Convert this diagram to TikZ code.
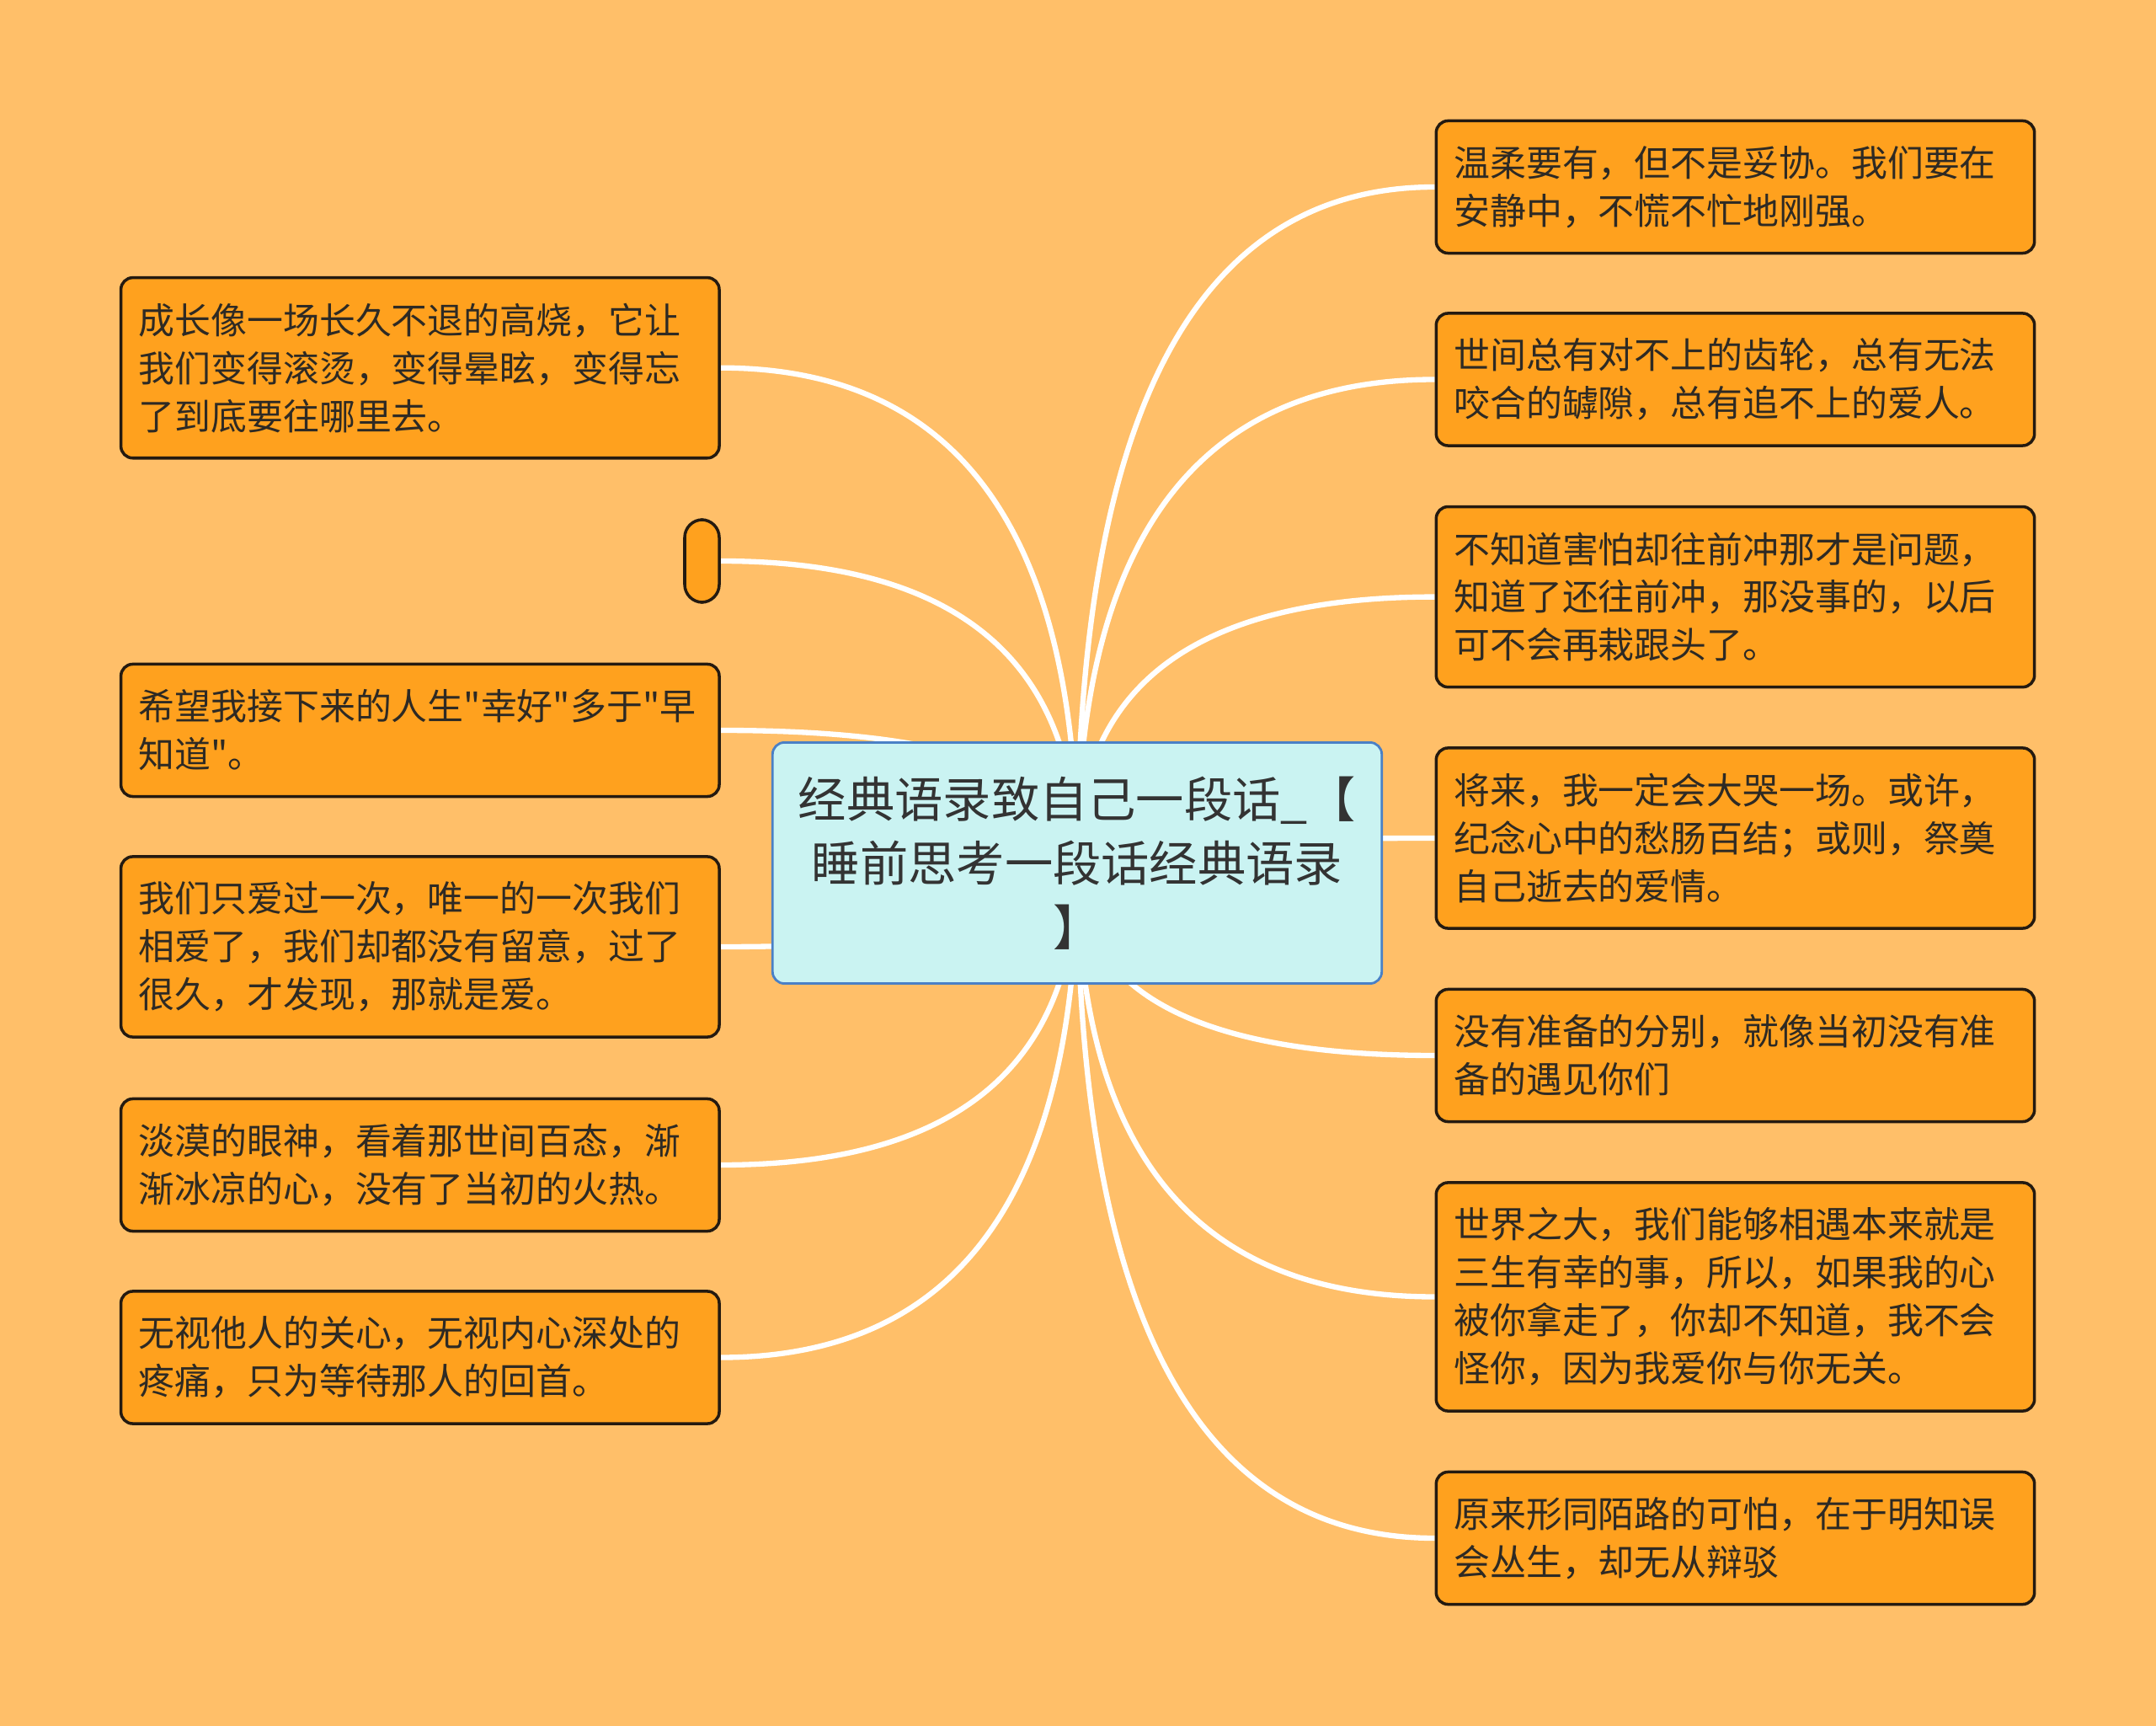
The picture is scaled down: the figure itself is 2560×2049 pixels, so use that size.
\documentclass[tikz,border=0pt]{standalone}
\usepackage{fontspec}
\setmainfont{Noto Sans CJK SC}[Ligatures=TeXOff]
\usepackage{xcolor}
\usepackage{tikz}
\usetikzlibrary{calc}
\definecolor{stPeach}{HTML}{FFBF69}
\definecolor{stOrange}{HTML}{FFA11E}
\definecolor{stInk}{HTML}{241A10}
\definecolor{stText}{HTML}{2E2A24}
\definecolor{stCyan}{HTML}{CAF3F2}
\definecolor{stBlue}{HTML}{4A80C6}
\definecolor{stGrey}{HTML}{333333}
\pgfdeclarelayer{paper}
\pgfdeclarelayer{wires}
\pgfsetlayers{paper,wires,main}
\tikzset{
  leaf/.style={draw=stInk, line width=1pt, fill=stOrange,
    rounded corners=4pt, text=stText, align=left,
    text width=6.68cm, inner xsep=0.21cm, inner ysep=0pt,
    font=\fontsize{12.2pt}{16.2pt}\selectfont},
  stub/.style={draw=stInk, line width=1pt, fill=stOrange,
    rounded corners=6pt, minimum width=0.41cm,
    minimum height=0.98cm, inner sep=0pt},
  link/.style={draw=white, line width=1.8pt,
    to path={.. controls ($(\tikztostart)!0.667!(\tikztostart |- \tikztotarget)$)
      and ($(\tikztotarget)!0.667!(\tikztostart |- \tikztotarget)$) .. (\tikztotarget)}}
}

\begin{document}
\begin{tikzpicture}[x=0.01cm,y=-0.01cm]
  \begin{pgfonlayer}{paper}
    \fill[stPeach] (0,0) rectangle (2560,2049);
  \end{pgfonlayer}

  % centre topic
  \node[
    draw=stBlue,
    line width=0.8pt,
    rounded corners=4pt,
    fill=stCyan,
    text=stGrey,
    align=center,
    inner sep=0.1cm,
    minimum width=7.23cm,
    minimum height=2.86cm,
    font=\fontsize{16.3pt}{21.6pt}\selectfont
  ] (root) at (1279,1024.5) {
    经典语录致自己一段话\_【\\
    睡前思考一段话经典语录\\
    】
  };

  % left side
  \node[leaf,minimum height=2.14cm] (left1) at (498.8,436.7)
    {成长像一场长久不退的高烧，它让\\我们变得滚烫，变得晕眩，变得忘\\了到底要往哪里去。};
  \node[stub] (left2) at (833.5,666) {};
  \node[leaf,minimum height=1.57cm] (left3) at (498.8,867)
    {希望我接下来的人生"幸好"多于"早\\知道"。};
  \node[leaf,minimum height=2.14cm] (left4) at (498.8,1124)
    {我们只爱过一次，唯一的一次我们\\相爱了，我们却都没有留意，过了\\很久，才发现，那就是爱。};
  \node[leaf,minimum height=1.57cm] (left5) at (498.8,1383)
    {淡漠的眼神，看着那世间百态，渐\\渐冰凉的心，没有了当初的火热。};
  \node[leaf,minimum height=1.57cm] (left6) at (498.8,1611.5)
    {无视他人的关心，无视内心深处的\\疼痛，只为等待那人的回首。};

  % right side
  \node[leaf,minimum height=1.57cm] (right1) at (2060.5,222)
    {温柔要有，但不是妥协。我们要在\\安静中，不慌不忙地刚强。};
  \node[leaf,minimum height=1.57cm] (right2) at (2060.5,450.5)
    {世间总有对不上的齿轮，总有无法\\咬合的罅隙，总有追不上的爱人。};
  \node[leaf,minimum height=2.14cm] (right3) at (2060.5,708.6)
    {不知道害怕却往前冲那才是问题，\\知道了还往前冲，那没事的，以后\\可不会再栽跟头了。};
  \node[leaf,minimum height=2.14cm] (right4) at (2060.5,995)
    {将来，我一定会大哭一场。或许，\\纪念心中的愁肠百结；或则，祭奠\\自己逝去的爱情。};
  \node[leaf,minimum height=1.57cm] (right5) at (2060.5,1253)
    {没有准备的分别，就像当初没有准\\备的遇见你们};
  \node[leaf,minimum height=2.71cm] (right6) at (2060.5,1539.5)
    {世界之大，我们能够相遇本来就是\\三生有幸的事，所以，如果我的心\\被你拿走了，你却不知道，我不会\\怪你，因为我爱你与你无关。};
  \node[leaf,minimum height=1.57cm] (right7) at (2060.5,1826)
    {原来形同陌路的可怕，在于明知误\\会丛生，却无从辩驳};

  % branches, behind the boxes
  \begin{pgfonlayer}{wires}
    \draw[link] (root.center) to (left1.east);
    \draw[link] (root.center) to (left2.east);
    \draw[link] (root.center) to (left3.east);
    \draw[link] (root.center) to (left4.east);
    \draw[link] (root.center) to (left5.east);
    \draw[link] (root.center) to (left6.east);
    \draw[link] (root.center) to (right1.west);
    \draw[link] (root.center) to (right2.west);
    \draw[link] (root.center) to (right3.west);
    \draw[link] (root.center) to (right4.west);
    \draw[link] (root.center) to (right5.west);
    \draw[link] (root.center) to (right6.west);
    \draw[link] (root.center) to (right7.west);
  \end{pgfonlayer}
\end{tikzpicture}
\end{document}
